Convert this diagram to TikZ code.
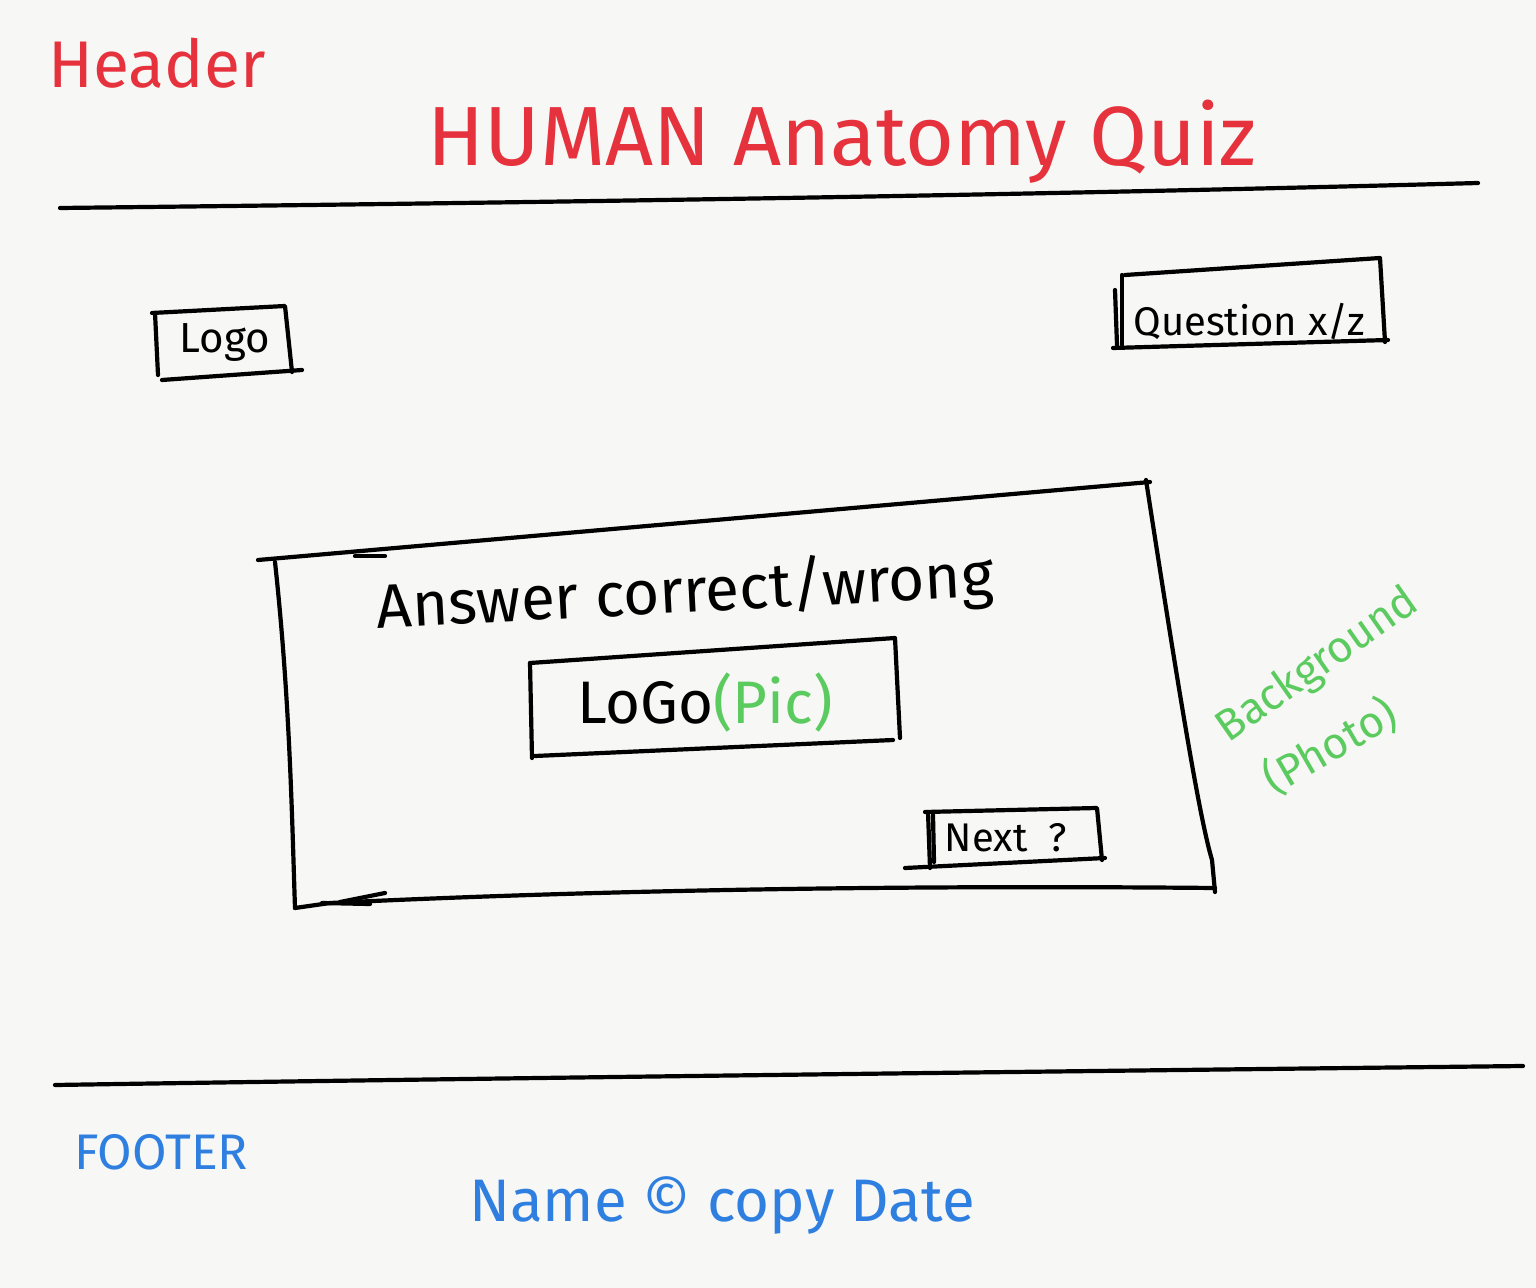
\documentclass[tikz,border=0pt]{standalone}
\usepackage{fontspec}
\setmainfont{Fira Sans}
\definecolor{inkred}{HTML}{E5323D}
\definecolor{inkgreen}{HTML}{5CCB5F}
\definecolor{inkblue}{HTML}{2F7FE0}
\definecolor{paper}{HTML}{F7F7F5}
\tikzset{
  pen/.style={line width=2.1pt, line cap=round, line join=round, black},
  redtxt/.style={text=inkred, inner sep=0pt},
  bluetxt/.style={text=inkblue, inner sep=0pt},
  greentxt/.style={text=inkgreen, inner sep=0pt},
  blacktxt/.style={text=black, inner sep=0pt},
}
\begin{document}
\begin{tikzpicture}[x=0.5pt,y=-0.5pt]
\fill[paper] (0,0) rectangle (1536,1288);
\useasboundingbox (0,0) rectangle (1536,1288);

% header
\node[redtxt, font=\fontsize{33}{36}\selectfont] (hdr) at (157,63) {Header};
\node[redtxt, font=\fontsize{42}{46}\selectfont] (title) at (842,142) {HUMAN Anatomy Quiz};
\coordinate (hl1) at (60,208);
\coordinate (hl2) at (1478,183);
\draw[pen] (hl1) .. controls (500,203) and (1000,196) .. (hl2);

% small logo box
\node[blacktxt, font=\fontsize{21}{24}\selectfont] (logo) at (225,343) {Logo};
\draw[pen] (152,313) -- (285,306) -- (292,372);
\draw[pen] (155,313) -- (158,375);
\draw[pen] (162,380) -- (302,370);

% question box
\node[blacktxt, font=\fontsize{20}{24}\selectfont] (quest) at (1249,321) {Question x/z};
\draw[pen] (1125,275) -- (1380,258) -- (1385,342);
\draw[pen] (1115,290) -- (1117,345);
\draw[pen] (1122,275) -- (1122,345);
\draw[pen] (1113,348) -- (1388,340);

% big answer box
\coordinate (btl) at (258,560);
\coordinate (btr) at (1150,482);
\coordinate (bbr) at (1215,892);
\coordinate (bbl) at (295,908);
\draw[pen] (btl) -- (btr);
\draw[pen] (355,556) -- (385,556);
\draw[pen] (1146,480) .. controls (1180,700) and (1200,820) .. (1212,860) -- (bbr);
\draw[pen] (275,562) .. controls (290,700) and (292,820) .. (bbl);
\draw[pen] (bbl) -- (330,903) .. controls (600,890) and (900,885) .. (1215,888);
\draw[pen] (322,903) -- (370,904);
\draw[pen] (340,902) -- (385,893);

\node[blacktxt, font=\fontsize{31}{34}\selectfont, rotate=3] (ans) at (685,594) {Answer correct/wrong};

% inner logo box
\draw[pen] (530,663) -- (895,638) -- (900,738);
\draw[pen] (530,663) -- (532,758);
\draw[pen] (535,756) -- (893,740);
\node[blacktxt, font=\fontsize{30}{34}\selectfont] (pic) at (705,702) {LoGo\textcolor{inkgreen}{(Pic)}};

% next box
\draw[pen] (925,812) -- (1097,808) -- (1102,860);
\draw[pen] (928,812) -- (930,868);
\draw[pen] (933,815) -- (934,862);
\draw[pen] (905,868) -- (1105,858);
\node[blacktxt, font=\fontsize{20}{24}\selectfont] (next) at (1006,838) {Next ~?};

% background note
\node[greentxt, font=\fontsize{22}{26}\selectfont, rotate=35] (bg1) at (1318,666) {Background};
\node[greentxt, font=\fontsize{22}{26}\selectfont, rotate=30] (bg2) at (1330,746) {(Photo)};

% footer
\coordinate (fl1) at (55,1085);
\coordinate (fl2) at (1523,1066);
\draw[pen] (fl1) .. controls (500,1078) and (1000,1072) .. (fl2);
\node[bluetxt, font=\fontsize{25}{28}\selectfont] (ftr) at (161,1152) {FOOTER};
\node[bluetxt, font=\fontsize{30}{33}\selectfont] (copy) at (722,1205) {Name © copy Date};
\end{tikzpicture}
\end{document}
